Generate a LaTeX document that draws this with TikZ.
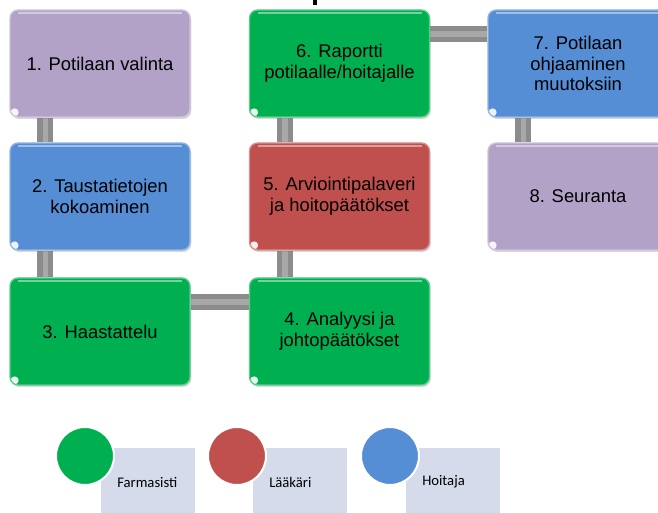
\documentclass[tikz,border=0pt]{standalone}
\usepackage{fontspec}
\setmainfont{Liberation Sans}
\newfontfamily\legfont{Carlito}
\usetikzlibrary{shadows,backgrounds}

\definecolor{boxpurple}{HTML}{B3A2C7}
\definecolor{boxblue}{HTML}{558ED5}
\definecolor{boxgreen}{HTML}{00B050}
\definecolor{boxred}{HTML}{C0504D}
\definecolor{conngray}{HTML}{8C8C8C}
\definecolor{legfill}{HTML}{D5DBEA}

\tikzset{
	stepbox/.style={rectangle, rounded corners=6pt, minimum width=135pt, minimum height=80.25pt,
		fill=#1, draw=#1!65!white, line width=1pt, align=center, text=black,
		font=\fontsize{13.8}{15.5}\selectfont,
		drop shadow={opacity=0.3, shadow xshift=1pt, shadow yshift=-1.5pt},
		path picture={
			\draw[white, opacity=0.45, line width=1.5pt, sharp corners] ([shift={(6pt,-2pt)}]path picture bounding box.north west) -- ([shift={(-6pt,-2pt)}]path picture bounding box.north east);
			\fill[white, opacity=0.9] ([shift={(3.5pt,3.5pt)}]path picture bounding box.south west) circle (3pt);
		}},
	conn/.style={line width=12pt, draw=conngray, postaction={draw=white, draw opacity=0.25, line width=4pt}},
	legrect/.style={rectangle, fill=legfill, minimum width=70.5pt, minimum height=52.5pt, inner sep=0pt},
	legdot/.style={circle, minimum size=43.5pt, inner sep=0pt, draw=white, line width=1.5pt},
	legtext/.style={inner sep=0pt, font=\legfont\fontsize{11}{13}\selectfont}
}

\begin{document}
\begin{tikzpicture}[x=0.75pt, y=-0.75pt]
		%%%%% START %%%%%
		\useasboundingbox (0,0) rectangle (658,513);
		\clip (0,0) rectangle (658,513);
		
		% cut-off title
		\fill[black] (313,0) rectangle (317,5);
		
		% steps
		\node[stepbox=boxpurple] (b1) at (100,63.5) {1. Potilaan valinta};
		\node[stepbox=boxblue] (b2) at (100,196.5) {2. Taustatietojen\\kokoaminen};
		\node[stepbox=boxgreen] (b3) at (100,331.5) {3. Haastattelu};
		\node[stepbox=boxgreen] (b4) at (339.5,331.5) {4. Analyysi ja\\johtopäätökset};
		\node[stepbox=boxred] (b5) at (339.5,196.5) {5. Arviointipalaveri\\ja hoitopäätökset};
		\node[stepbox=boxgreen] (b6) at (339.5,63.5) {6. Raportti\\potilaalle/hoitajalle};
		\node[stepbox=boxblue] (b7) at (578,63.5) {7. Potilaan\\ohjaaminen\\muutoksiin};
		\node[stepbox=boxpurple] (b8) at (578,196.5) {8. Seuranta};
		
		% connectors
		\begin{scope}[on background layer]
			\draw[conn] ([xshift=27pt]b1.south west) -- ([xshift=27pt]b2.north west);
			\draw[conn] ([xshift=27pt]b2.south west) -- ([xshift=27pt]b3.north west);
			\draw[conn] ([yshift=-18.5pt]b3.north east) -- ([yshift=-18.5pt]b4.north west);
			\draw[conn] ([xshift=27pt]b4.north west) -- ([xshift=27pt]b5.south west);
			\draw[conn] ([xshift=27pt]b5.north west) -- ([xshift=27pt]b6.south west);
			\draw[conn] ([yshift=-18.5pt]b6.north east) -- ([yshift=-18.5pt]b7.north west);
			\draw[conn] ([xshift=27pt]b7.south west) -- ([xshift=27pt]b8.north west);
		\end{scope}
		
		% legend
		\foreach \i/\col/\txt/\x in {1/boxgreen/Farmasisti/85, 2/boxred/Lääkäri/237, 3/boxblue/Hoitaja/390}{
			\node[legrect, anchor=north west] (r\i) at (\x+16,448) {};
			\node[legtext, anchor=west] (t\i) at ([shift={(12pt,-25.5pt)}]r\i.north west) {\txt};
			\node[legdot, fill=\col] (c\i) at (\x,456) {};
		}
		
		%%%%% END %%%%%
\end{tikzpicture}
\end{document}
